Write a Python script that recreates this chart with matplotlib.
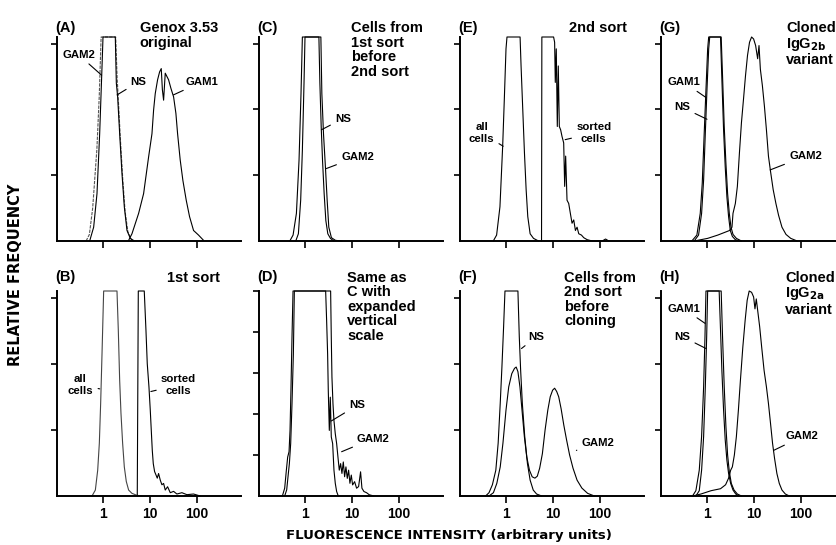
import numpy as np
import matplotlib
matplotlib.use("Agg")
import matplotlib.pyplot as plt
from matplotlib.ticker import NullLocator, FixedLocator

plt.rcParams['font.family'] = ['Liberation Sans', 'DejaVu Sans']
plt.rcParams['font.weight'] = 'bold'
plt.rcParams['mathtext.default'] = 'bf'

# ---------------- data (log10 fluorescence, relative frequency) ----------------
# Panel A
A_NS_lx = [-0.284, -0.199, -0.128, -0.071, -0.021, 0.0, 0.262, 0.284, 0.312, 0.355, 0.404, 0.454, 0.511, 0.582, 0.652]
A_NS_y = [0, 0.21, 0.72, 1.63, 2.65, 3.1, 3.1, 2.4, 2.19, 1.63, 1.03, 0.52, 0.16, 0.04, 0]
A_GAM2_lx = [-0.36, -0.29, -0.22, -0.13, -0.08, -0.04, 0.27, 0.30, 0.33, 0.37, 0.42, 0.47, 0.53, 0.60, 0.69]
A_GAM2_y = [0, 0.1, 0.5, 1.4, 2.2, 3.1, 3.1, 2.5, 2.1, 1.55, 0.95, 0.45, 0.14, 0.03, 0]
A_GAM1_lx = [0.546, 0.617, 0.759, 0.865, 0.972, 1.043, 1.078, 1.113, 1.163, 1.206, 1.241, 1.265, 1.291, 1.326,
             1.397, 1.447, 1.504, 1.553, 1.589, 1.645, 1.702, 1.773, 1.844, 1.929, 2.035, 2.142]
A_GAM1_y = [0.01, 0.11, 0.42, 0.72, 1.28, 1.63, 1.99, 2.24, 2.45, 2.57, 2.62, 2.3, 2.14, 2.55,
            2.45, 2.32, 2.19, 1.94, 1.63, 1.23, 0.92, 0.62, 0.37, 0.16, 0.09, 0.01]

# Panel B
B_all_lx = [-0.234, -0.163, -0.113, -0.078, -0.050, -0.021, 0.014, 0.298, 0.326, 0.355, 0.383, 0.418, 0.454,
            0.496, 0.546, 0.617, 0.723, 0.830]
B_all_y = [0, 0.09, 0.39, 0.80, 1.40, 2.15, 3.1, 3.1, 2.51, 1.75, 1.25, 0.80, 0.44, 0.22, 0.09, 0.04, 0.01, 0]
B_sorted_lx = [0.730, 0.752, 0.879, 0.915, 0.943, 0.979, 1.007, 1.028, 1.050, 1.071, 1.099, 1.128, 1.156, 1.184,
               1.220, 1.255, 1.291, 1.326, 1.376, 1.433, 1.504, 1.574, 1.681, 1.787, 1.929, 2.071]
B_sorted_y = [0, 3.1, 3.1, 2.51, 2.0, 1.65, 1.30, 1.0, 0.69, 0.49, 0.37, 0.32, 0.27, 0.34,
              0.24, 0.17, 0.19, 0.09, 0.14, 0.05, 0.07, 0.03, 0.05, 0.02, 0.03, 0]

# Panel C
C_NS_lx = [-0.197, -0.141, -0.092, -0.056, -0.021, 0.0, 0.296, 0.317, 0.345, 0.373, 0.408, 0.444, 0.486, 0.542, 0.613]
C_NS_y = [0, 0.11, 0.62, 1.38, 2.40, 3.1, 3.1, 2.40, 1.74, 1.23, 0.72, 0.31, 0.11, 0.04, 0]
C_GAM2_lx = [-0.324, -0.254, -0.183, -0.127, -0.085, -0.056, 0.338, 0.359, 0.394, 0.437, 0.472, 0.507, 0.563,
             0.648, 0.789]
C_GAM2_y = [0, 0.09, 0.42, 1.23, 2.24, 3.1, 3.1, 2.24, 1.63, 1.10, 0.62, 0.21, 0.05, 0.01, 0]

# Panel D (expanded vertical scale)
D_NS_lx = [-0.482, -0.433, -0.397, -0.369, -0.340, -0.319, -0.298, -0.277, -0.255, 0.44, 0.461, 0.482, 0.496,
           0.518, 0.539, 0.560, 0.589, 0.617, 0.645, 0.674, 0.709]
D_NS_y = [0, 0.19, 0.63, 0.95, 1.08, 1.60, 2.65, 3.87, 5.0, 5.0, 4.27, 3.46, 2.57,
          1.60, 2.41, 1.44, 1.28, 0.63, 0.31, 0.11, 0]
D_GAM2_lx = [-0.433, -0.39, -0.362, -0.333, -0.305, -0.277, -0.248, -0.227, 0.546, 0.560, 0.574, 0.596, 0.617,
             0.645, 0.674, 0.702, 0.730, 0.759, 0.787, 0.816, 0.844, 0.872, 0.901, 0.929, 0.957, 0.986, 1.014,
             1.057, 1.099, 1.142, 1.184, 1.213, 1.255, 1.312, 1.369, 1.468]
D_GAM2_y = [0, 0.15, 0.47, 0.79, 1.28, 2.25, 3.46, 5.0, 5.0, 3.87, 2.90, 2.25, 1.84,
            1.52, 1.28, 0.95, 0.63, 0.79, 0.55, 0.83, 0.47, 0.71, 0.43, 0.63, 0.31, 0.51, 0.27,
            0.35, 0.19, 0.23, 0.59, 0.19, 0.11, 0.08, 0.03, 0]

# Panel E
E_all_lx = [-0.271, -0.2, -0.129, -0.071, -0.036, 0.0, 0.021, 0.3, 0.321, 0.357, 0.393, 0.429, 0.464, 0.514,
            0.586, 0.693]
E_all_y = [0, 0.09, 0.52, 1.44, 2.15, 2.92, 3.1, 3.1, 2.66, 2.0, 1.34, 0.78, 0.37, 0.11, 0.04, 0]
E_sorted_lx = [0.757, 0.764, 1.014, 1.036, 1.05, 1.071, 1.093, 1.114, 1.136, 1.164, 1.193, 1.229, 1.25, 1.271,
               1.3, 1.336, 1.371, 1.407, 1.443, 1.479, 1.514, 1.55, 1.607, 1.657, 1.729, 1.836, 2.05, 2.121,
               2.19]
E_sorted_y = [0, 3.1, 3.1, 3.02, 2.41, 2.92, 1.74, 2.66, 1.74, 1.69, 1.59, 1.49, 0.83, 1.29,
              0.62, 0.57, 0.42, 0.27, 0.32, 0.16, 0.21, 0.11, 0.09, 0.05, 0.02, 0, 0, 0.03, 0]

# Panel F
F_NS_lx = [-0.435, -0.362, -0.290, -0.217, -0.167, -0.123, -0.087, -0.051, -0.022, 0.254, 0.283, 0.312, 0.348,
           0.399, 0.457, 0.514, 0.580, 0.652, 0.761]
F_NS_y = [0, 0.05, 0.17, 0.39, 0.80, 1.40, 1.95, 2.56, 3.1, 3.1, 2.41, 1.90, 1.40, 0.90, 0.49, 0.24, 0.09, 0.03, 0]
F_GAM2_lx = [-0.362, -0.268, -0.196, -0.123, -0.065, 0.0, 0.058, 0.123, 0.181, 0.217, 0.254, 0.297, 0.341,
             0.391, 0.442, 0.5, 0.558, 0.616, 0.667, 0.717, 0.775, 0.833, 0.891, 0.942, 0.993, 1.036, 1.080,
             1.123, 1.174, 1.232, 1.290, 1.355, 1.428, 1.514, 1.616, 1.739, 1.884]
F_GAM2_y = [0, 0.05, 0.19, 0.44, 0.80, 1.30, 1.65, 1.85, 1.93, 1.95, 1.88, 1.65, 1.30,
            0.90, 0.59, 0.39, 0.29, 0.27, 0.30, 0.42, 0.64, 1.0, 1.30, 1.50, 1.60, 1.63, 1.58,
            1.50, 1.32, 1.07, 0.85, 0.62, 0.42, 0.24, 0.12, 0.04, 0]

# Panel G
G_GAM1_lx = [-0.324, -0.216, -0.144, -0.101, -0.065, -0.029, 0.014, 0.036, 0.302, 0.331, 0.367, 0.403, 0.439,
             0.475, 0.511, 0.554, 0.626, 0.734]
G_GAM1_y = [0, 0.09, 0.42, 0.88, 1.54, 2.18, 2.92, 3.1, 3.1, 2.51, 1.74, 1.18, 0.72, 0.42, 0.21, 0.10, 0.04, 0]
G_NS_lx = [-0.273, -0.18, -0.115, -0.072, -0.036, 0.0, 0.036, 0.058, 0.288, 0.317, 0.353, 0.388, 0.424, 0.46,
           0.496, 0.54, 0.604, 0.698]
G_NS_y = [0, 0.09, 0.42, 0.93, 1.64, 2.31, 2.92, 3.1, 3.1, 2.46, 1.69, 1.13, 0.67, 0.37, 0.16, 0.07, 0.02, 0]
G_GAM2_lx = [-0.273, 0.014, 0.230, 0.374, 0.482, 0.532, 0.554, 0.604, 0.647, 0.691, 0.734, 0.777, 0.820, 0.863,
             0.906, 0.950, 0.993, 1.036, 1.079, 1.108, 1.137, 1.180, 1.223, 1.266, 1.309, 1.353, 1.410, 1.468,
             1.525, 1.597, 1.683, 1.784, 1.921]
G_GAM2_y = [0, 0.04, 0.09, 0.13, 0.16, 0.21, 0.42, 0.57, 0.83, 1.34, 1.80, 2.15, 2.51, 2.82,
            3.02, 3.10, 3.07, 2.97, 2.77, 2.97, 2.61, 2.36, 2.05, 1.69, 1.29, 1.06, 0.78, 0.57,
            0.39, 0.21, 0.10, 0.04, 0]

# Panel H
H_GAM1_lx = [-0.309, -0.237, -0.165, -0.115, -0.072, -0.043, -0.022, 0.302, 0.331, 0.367, 0.403, 0.439, 0.475,
             0.518, 0.576, 0.647, 0.734]
H_GAM1_y = [0, 0.08, 0.39, 0.90, 1.65, 2.41, 3.1, 3.1, 2.41, 1.65, 1.05, 0.62, 0.37, 0.19, 0.09, 0.03, 0]
H_NS_lx = [-0.237, -0.165, -0.115, -0.072, -0.036, -0.007, 0.014, 0.259, 0.288, 0.317, 0.353, 0.388, 0.424,
           0.46, 0.504, 0.554, 0.612, 0.676]
H_NS_y = [0, 0.08, 0.39, 0.90, 1.65, 2.41, 3.1, 3.1, 2.51, 1.90, 1.30, 0.85, 0.54, 0.34, 0.19, 0.09, 0.03, 0]
H_GAM2_lx = [-0.309, -0.129, 0.086, 0.288, 0.396, 0.460, 0.504, 0.540, 0.583, 0.626, 0.669, 0.712, 0.763, 0.813,
             0.856, 0.899, 0.95, 0.993, 1.022, 1.050, 1.079, 1.122, 1.165, 1.216, 1.266, 1.309, 1.353, 1.396,
             1.439, 1.489, 1.540, 1.597, 1.669, 1.755]
H_GAM2_y = [0, 0.03, 0.08, 0.11, 0.17, 0.27, 0.39, 0.44, 0.62, 0.90, 1.30, 1.75, 2.25, 2.66,
            2.96, 3.1, 3.08, 3.01, 2.83, 2.98, 2.81, 2.56, 2.25, 1.90, 1.65, 1.40, 1.10, 0.80,
            0.57, 0.34, 0.19, 0.09, 0.03, 0]

x_ticks = [1, 10, 100]
x_ticklabels = ['1', '10', '100']

panel_letters = ['(A)', '(B)', '(C)', '(D)', '(E)', '(F)', '(G)', '(H)']
panel_notes = ['Genox 3.53\noriginal', '1st sort', 'Cells from\n1st sort\nbefore\n2nd sort',
               'Same as\nC with\nexpanded\nvertical\nscale', '2nd sort', 'Cells from\n2nd sort\nbefore\ncloning',
               'Cloned\nIgG$_{2b}$\nvariant', 'Cloned\nIgG$_{2a}$\nvariant']

# ---------------- figure ----------------
fig = plt.figure(figsize=(8.37, 5.45), dpi=100)
W, H = 837.0, 545.0
col_left = [57, 259, 460, 661]
note_left = [0.45, 0.5, 0.59, 0.68]
note_left_bottom = [0.6, 0.48, 0.565, 0.675]
XMIN, XMAX = 10 ** -0.98, 10 ** 2.94
AXW = 184


def make_ax(col, row, ymax, nticks):
    left = col_left[col]
    if row == 0:
        bottom_px, top_px = 241, 37
    else:
        bottom_px, top_px = 496, 291
    ax = fig.add_axes([left / W, 1 - bottom_px / H, AXW / W, (bottom_px - top_px) / H])
    ax.set_xscale('log')
    ax.set_xlim(XMIN, XMAX)
    ax.set_ylim(0, ymax)
    ax.xaxis.set_major_locator(FixedLocator(x_ticks))
    ax.xaxis.set_minor_locator(NullLocator())
    ax.set_yticks(list(range(1, nticks + 1)))
    ax.set_yticklabels([])
    if row == 1:
        ax.set_xticklabels(x_ticklabels, fontsize=10, fontweight='bold')
    else:
        ax.set_xticklabels([])
    for s in ['top', 'right']:
        ax.spines[s].set_visible(False)
    for s in ['left', 'bottom']:
        ax.spines[s].set_linewidth(1.4)
    ax.tick_params(axis='x', length=5, width=1.2, pad=3)
    ax.tick_params(axis='y', length=4.5, width=1.2)
    ax.patch.set_visible(False)
    return ax


def curve(ax, lx, y, ceil, lw=0.8, color='k', ls='-'):
    ax.plot(10 ** np.asarray(lx), np.minimum(np.asarray(y), ceil), color=color, lw=lw, ls=ls, clip_on=False)


def label(ax, text, tx, ty, px, py, fs=8.2):
    ax.annotate(text, xy=(10 ** px, py), xytext=(10 ** tx, ty), ha='center', va='center',
                fontsize=fs, fontweight='bold',
                arrowprops=dict(arrowstyle='-', lw=0.8, color='k', shrinkA=1.5, shrinkB=0))


def titles(ax, idx, row, nleft):
    yl = 1.044 if row == 0 else 1.068
    yt = 1.078 if row == 0 else 1.100
    ax.text(-0.01, yl, panel_letters[idx], transform=ax.transAxes, ha='left', va='center',
            fontsize=10.5, fontweight='bold')
    ax.text(nleft, yt, panel_notes[idx], transform=ax.transAxes, ha='left', va='top',
            fontsize=10.5, fontweight='bold', linespacing=1.05)


CEIL = 3.1
# A
ax = make_ax(0, 0, CEIL, 3)
curve(ax, A_GAM2_lx, A_GAM2_y, CEIL, color='#555555', ls=(0, (3, 1)))
curve(ax, A_NS_lx, A_NS_y, CEIL)
curve(ax, A_GAM1_lx, A_GAM1_y, CEIL)
titles(ax, 0, 0, note_left[0])
label(ax, 'GAM2', -0.52, 2.83, -0.03, 2.52)
label(ax, 'NS', 0.76, 2.42, 0.30, 2.22)
label(ax, 'GAM1', 2.11, 2.42, 1.50, 2.22)

# B
ax = make_ax(0, 1, CEIL, 3)
curve(ax, B_all_lx, B_all_y, CEIL, color='#444444')
curve(ax, B_sorted_lx, B_sorted_y, CEIL)
titles(ax, 1, 1, note_left_bottom[0])
label(ax, 'all\ncells', -0.48, 1.68, -0.07, 1.62)
label(ax, 'sorted\ncells', 1.61, 1.68, 1.02, 1.58)

# C
ax = make_ax(1, 0, CEIL, 3)
curve(ax, C_GAM2_lx, C_GAM2_y, CEIL)
curve(ax, C_NS_lx, C_NS_y, CEIL)
titles(ax, 2, 0, note_left[1])
label(ax, 'NS', 0.81, 1.86, 0.35, 1.69)
label(ax, 'GAM2', 1.12, 1.28, 0.45, 1.10)

# D
DCEIL = 5.0
ax = make_ax(1, 1, DCEIL, 5)
curve(ax, D_GAM2_lx, D_GAM2_y, DCEIL)
curve(ax, D_NS_lx, D_NS_y, DCEIL)
titles(ax, 3, 1, note_left_bottom[1])
label(ax, 'NS', 1.11, 2.21, 0.56, 1.83)
label(ax, 'GAM2', 1.45, 1.40, 0.78, 1.08)

# E
ax = make_ax(2, 0, CEIL, 3)
curve(ax, E_all_lx, E_all_y, CEIL)
curve(ax, E_sorted_lx, E_sorted_y, CEIL)
titles(ax, 4, 0, note_left[2])
label(ax, 'all\ncells', -0.52, 1.64, -0.06, 1.44)
label(ax, 'sorted\ncells', 1.87, 1.64, 1.26, 1.54)

# F
ax = make_ax(2, 1, CEIL, 3)
curve(ax, F_NS_lx, F_NS_y, CEIL)
curve(ax, F_GAM2_lx, F_GAM2_y, CEIL)
titles(ax, 5, 1, note_left_bottom[2])
label(ax, 'NS', 0.65, 2.41, 0.33, 2.23)
label(ax, 'GAM2', 1.96, 0.80, 1.50, 0.69)

# G
ax = make_ax(3, 0, CEIL, 3)
curve(ax, G_GAM1_lx, G_GAM1_y, CEIL)
curve(ax, G_NS_lx, G_NS_y, CEIL)
curve(ax, G_GAM2_lx, G_GAM2_y, CEIL)
titles(ax, 6, 0, note_left[3])
label(ax, 'GAM1', -0.49, 2.41, -0.02, 2.18)
label(ax, 'NS', -0.525, 2.03, 0.0, 1.85)
label(ax, 'GAM2', 2.10, 1.29, 1.345, 1.08)

# H
ax = make_ax(3, 1, CEIL, 3)
curve(ax, H_GAM1_lx, H_GAM1_y, CEIL)
curve(ax, H_NS_lx, H_NS_y, CEIL)
curve(ax, H_GAM2_lx, H_GAM2_y, CEIL)
titles(ax, 7, 1, note_left_bottom[3])
label(ax, 'GAM1', -0.49, 2.83, -0.04, 2.61)
label(ax, 'NS', -0.525, 2.41, -0.02, 2.23)
label(ax, 'GAM2', 2.03, 0.90, 1.42, 0.69)

fig.text(16 / W, 1 - 275 / H, 'RELATIVE FREQUENCY', rotation=90, ha='center', va='center',
         fontsize=10.5, fontweight='bold', family=['DejaVu Sans'])
fig.text(449 / W, 1 - 536 / H, 'FLUORESCENCE INTENSITY (arbitrary units)', ha='center', va='center',
         fontsize=9.5, fontweight='bold', family=['DejaVu Sans'])

fig.savefig('out.png', dpi=100)
